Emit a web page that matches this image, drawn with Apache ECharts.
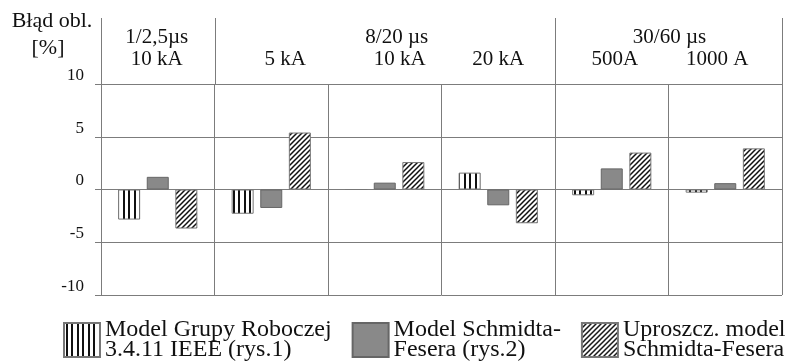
<!DOCTYPE html>
<html><head><meta charset="utf-8">
<script src="https://cdn.jsdelivr.net/npm/echarts@6/dist/echarts.min.js"></script>
<style>html,body{margin:0;padding:0;background:#fff}#c{width:794px;height:364px}</style>
</head><body><div id="c"></div>
<script>
// ---- data ----
const categories = ['1/2,5µs 10 kA', '8/20 µs 5 kA', '8/20 µs 10 kA', '8/20 µs 20 kA', '30/60 µs 500A', '30/60 µs 1000 A'];
const subLabels = ['10 kA', '5 kA', '10 kA', '20 kA', '500A', '1000 A'];
const groupLabels = ['1/2,5µs', '8/20 µs', '30/60 µs'];
const groupStarts = [0, 1, 4];
const groupEnds = [1, 4, 6];
const seriesNames = ['Model Grupy Roboczej\n3.4.11 IEEE (rys.1)', 'Model Schmidta-\nFesera (rys.2)', 'Uproszcz. model\nSchmidta-Fesera'];
const valuesIEEE = [-2.85, -2.3, 0, 1.6, -0.55, -0.3];
const valuesSchmidt = [1.2, -1.75, 0.65, -1.5, 2.0, 0.6];
const valuesSimplified = [-3.7, 5.4, 2.6, -3.2, 3.5, 3.9];
const yMin = -10, yMax = 10, yStep = 5;
const yTitle = ['Błąd obl.', '[%]'];

// ---- styles ----
const font = 'Liberation Serif';
const textColor = '#111';
const lineGray = '#7c7c7c';
const subLabelShift = [-1, 14, 15, 0, 3, -8];   // px nudges of header labels, as in the original layout
const groupLabelShift = [-1, 12, 1];

function stripePattern() {
  const c = document.createElement('canvas'); c.width = 11; c.height = 4;
  const g = c.getContext('2d');
  g.fillStyle = '#fff'; g.fillRect(0, 0, 11, 4);
  g.fillStyle = '#111'; g.fillRect(2, 0, 2, 4); g.fillRect(7, 0, 2, 4);
  return c;
}
function hatchPattern() {
  const s = 5;
  const c = document.createElement('canvas'); c.width = s; c.height = s;
  const g = c.getContext('2d');
  g.fillStyle = '#fff'; g.fillRect(0, 0, s, s);
  g.strokeStyle = '#111'; g.lineWidth = 1.5;
  g.beginPath();
  g.moveTo(0, s); g.lineTo(s, 0);
  g.moveTo(-s / 2, s / 2); g.lineTo(s / 2, -s / 2);
  g.moveTo(s / 2, s * 1.5); g.lineTo(s * 1.5, s / 2);
  g.stroke();
  return c;
}

const labelRich = {};
subLabelShift.forEach((d, i) => {
  labelRich['r' + i] = { fontFamily: font, fontSize: 21, color: textColor,
    padding: d >= 0 ? [0, 0, 0, 2 * d] : [0, -2 * d, 0, 0] };
});

const chart = echarts.init(document.getElementById('c'), null, { renderer: 'canvas' });
const barBase = { type: 'bar', barWidth: 22, barGap: '30%' };
const option = {
  animation: false,
  backgroundColor: '#fff',
  grid: { left: 101, right: 12, top: 84, bottom: 69 },
  xAxis: {
    type: 'category', position: 'top', data: categories,
    axisLine: { show: false },
    axisTick: { show: true, length: 29, lineStyle: { color: lineGray } },
    axisLabel: { interval: 0, margin: 14, formatter: (v, i) => '{r' + i + '|' + subLabels[i] + '}', rich: labelRich,
      fontFamily: font, fontSize: 21, color: textColor },
    splitLine: { show: true, lineStyle: { color: lineGray } }
  },
  yAxis: {
    type: 'value', min: yMin, max: yMax, interval: yStep,
    axisLine: { show: true, lineStyle: { color: lineGray } },
    axisTick: { show: true, length: 6, lineStyle: { color: lineGray } },
    splitLine: { show: true, lineStyle: { color: lineGray } },
    axisLabel: { margin: 17, verticalAlign: 'bottom', fontFamily: font, fontSize: 17, color: textColor }
  },
  legend: {
    left: 63, top: 318, padding: 0, width: 731, itemWidth: 36, itemHeight: 34, itemGap: 20, icon: 'rect',
    selectedMode: false,
    textStyle: { fontFamily: font, fontSize: 24, lineHeight: 20, color: textColor },
    data: seriesNames
  },
  series: [
    Object.assign({}, barBase, { name: seriesNames[0], data: valuesIEEE,
      itemStyle: { color: { image: stripePattern(), repeat: 'repeat' }, borderColor: '#777', borderWidth: 1 } }),
    Object.assign({}, barBase, { name: seriesNames[1], data: valuesSchmidt,
      itemStyle: { color: '#898989', borderColor: '#666', borderWidth: 1 } }),
    Object.assign({}, barBase, { name: seriesNames[2], data: valuesSimplified,
      itemStyle: { color: { image: hatchPattern(), repeat: 'repeat' }, borderColor: '#777', borderWidth: 1 } })
  ]
};
chart.setOption(option);

// header dividers and group labels, placed through the axis scale
const c0 = chart.convertToPixel({ xAxisIndex: 0 }, categories[0]);
const c1 = chart.convertToPixel({ xAxisIndex: 0 }, categories[1]);
const band = c1 - c0;
const edge = i => c0 + (i - 0.5) * band;
const yTop = chart.convertToPixel({ yAxisIndex: 0 }, yMax);
const elements = [];
const bounds = groupStarts.concat([groupEnds[groupEnds.length - 1]]);
bounds.forEach(b => {
  const x = Math.round(edge(b)) + 0.5;
  elements.push({ type: 'line', silent: true, shape: { x1: x, y1: 18, x2: x, y2: yTop }, style: { stroke: lineGray, lineWidth: 1 } });
});
groupLabels.forEach((t, k) => {
  const x = (edge(groupStarts[k]) + edge(groupEnds[k])) / 2 + groupLabelShift[k];
  elements.push({ type: 'text', silent: true, x: x, y: 37, style: { text: t, fontFamily: font, fontSize: 21, fill: textColor, align: 'center', verticalAlign: 'middle' } });
});
elements.push({ type: 'text', silent: true, x: 52, y: 21, style: { text: yTitle[0], fontFamily: font, fontSize: 22, fill: textColor, align: 'center', verticalAlign: 'middle' } });
elements.push({ type: 'text', silent: true, x: 48, y: 48, style: { text: yTitle[1], fontFamily: font, fontSize: 22, fill: textColor, align: 'center', verticalAlign: 'middle' } });
chart.setOption({ graphic: { elements: elements } });
</script>
</body></html>
